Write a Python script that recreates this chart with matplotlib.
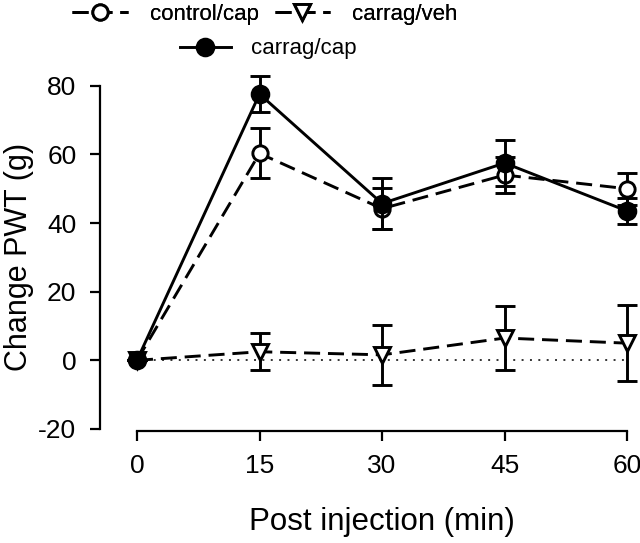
import matplotlib.pyplot as plt
from matplotlib.lines import Line2D

plt.rcParams['font.family'] = ['Liberation Sans', 'DejaVu Sans']
plt.rcParams['axes.unicode_minus'] = False

minutes = [0, 15, 30, 45, 60]

control_cap = [0, 60.3, 44.2, 54.0, 50.0]
control_cap_err = [0, 7.3, 6.0, 5.2, 4.6]

carrag_veh = [0, 2.5, 1.6, 6.5, 5.0]
carrag_veh_err = [0, 5.4, 8.8, 9.4, 11.0]

carrag_cap = [0, 77.6, 45.7, 57.5, 43.5]
carrag_cap_err = [0, 5.2, 7.5, 6.7, 3.8]

fig = plt.figure(figsize=(6.4, 5.43), dpi=100)
ax = fig.add_axes([0.214, 0.21, 0.766, 0.632])

lw = 2.1
dash = (0, (5.5, 2.7))
ax.plot([0, 60], [0, 0], color='#333333', linestyle=(0, (1, 3.3)),
        linewidth=1.4, zorder=1)

style = dict(color='black', linewidth=lw, markeredgewidth=lw, capsize=7,
             elinewidth=lw, capthick=lw, clip_on=False)
ax.errorbar(minutes, control_cap, yerr=control_cap_err, linestyle=dash,
            marker='o', markersize=11, markerfacecolor='white', zorder=3,
            **style)
ax.errorbar(minutes, carrag_veh, yerr=carrag_veh_err, linestyle=dash,
            marker='v', markersize=12, markerfacecolor='white', zorder=3,
            **style)
ax.errorbar(minutes, carrag_cap, yerr=carrag_cap_err, linestyle='-',
            marker='o', markersize=12, markerfacecolor='black', zorder=4,
            **style)

ax.set_xlim(0, 60)
ax.set_ylim(-20, 80)
ax.set_xticks(minutes)
ax.set_yticks([-20, 0, 20, 40, 60, 80])
ax.spines['top'].set_visible(False)
ax.spines['right'].set_visible(False)
# offsets are in points (37 px and 2.5 px)
ax.spines['left'].set_position(('outward', 26.6))
ax.spines['bottom'].set_position(('outward', 1.8))
ax.spines['left'].set_linewidth(1.6)
ax.spines['bottom'].set_linewidth(1.6)
ax.tick_params(axis='both', labelsize=19, width=1.6, length=7, direction='out')
ax.tick_params(axis='x', pad=9)
ax.tick_params(axis='y', pad=10)
ax.set_xlabel('Post injection (min)', fontsize=22.5, labelpad=21)
ax.set_ylabel('Change PWT (g)', fontsize=22, labelpad=3)

h1 = Line2D([], [], color='black', linestyle=dash, linewidth=lw, marker='o',
            markersize=11, markerfacecolor='white', markeredgewidth=lw)
h2 = Line2D([], [], color='black', linestyle=dash, linewidth=lw, marker='v',
            markersize=12, markerfacecolor='white', markeredgewidth=lw)
h3 = Line2D([], [], color='black', linestyle='-', linewidth=lw, marker='o',
            markersize=12, markerfacecolor='black', markeredgewidth=lw)

leg1 = fig.legend([h1, h2], ['control/cap', 'carrag/veh'], ncol=2,
                  loc='upper center', bbox_to_anchor=(0.414, 1.03),
                  frameon=False, fontsize=16, handlelength=2.5,
                  columnspacing=0.7, handletextpad=1.0)
leg2 = fig.legend([h3], ['carrag/cap'], loc='upper center',
                  bbox_to_anchor=(0.419, 0.966), frameon=False, fontsize=16,
                  handlelength=2.3, handletextpad=0.9)
fig.add_artist(leg1)

fig.savefig('out.png', dpi=100)
